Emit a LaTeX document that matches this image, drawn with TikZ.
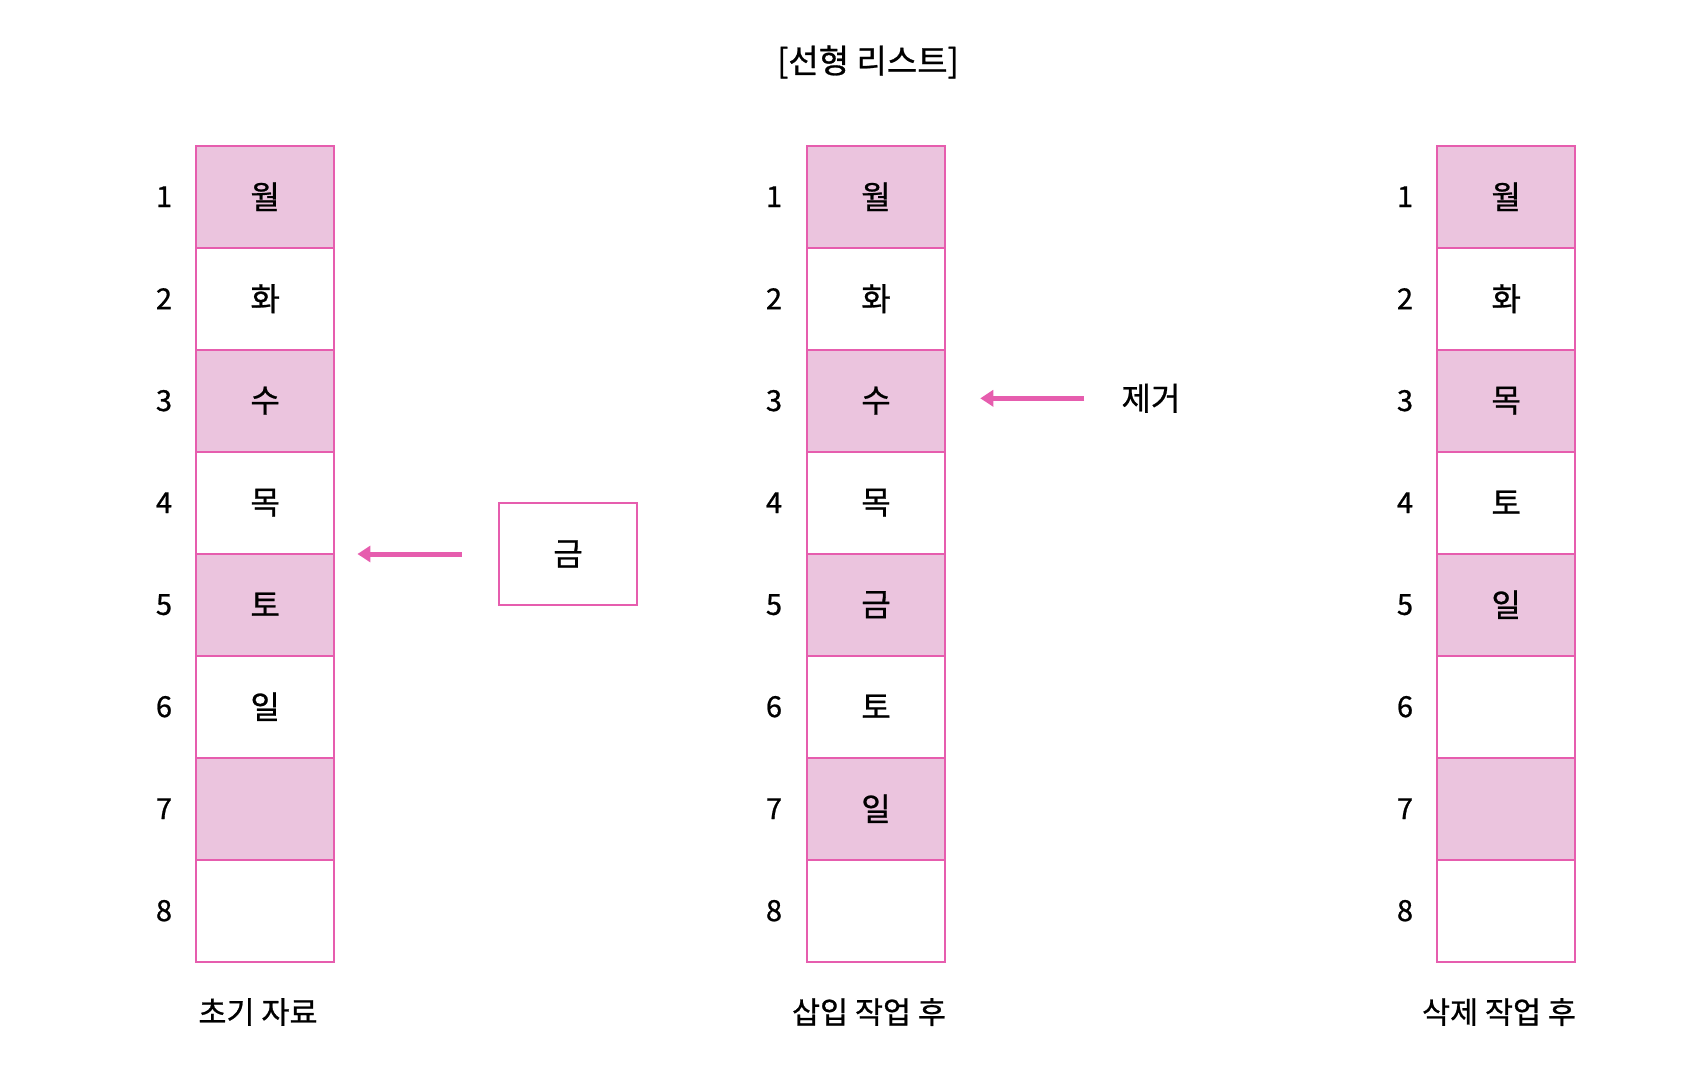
\documentclass[tikz,border=0pt]{standalone}
\usepackage{fontspec}
\setmainfont{Noto Sans CJK KR}[FakeBold=0.8]
\usetikzlibrary{arrows.meta}
\definecolor{pinkline}{HTML}{E65DAE}
\definecolor{pinkfill}{HTML}{EBC4DE}
\tikzset{
  cell/.style={draw=pinkline, line width=2pt, minimum width=138.5pt, minimum height=102pt, inner sep=0pt, font=\fontsize{32}{35}\selectfont},
  hl/.style={fill=pinkfill},
  num/.style={inner sep=0pt, font=\fontsize{29}{32}\selectfont},
  lbl/.style={inner sep=0pt, font=\fontsize{30.5}{33}\selectfont},
  pinkarrow/.style={draw=pinkline, line width=5pt, -{Triangle[length=13pt,width=16pt]}},
}
\begin{document}
\begin{tikzpicture}[x=1pt,y=-1pt]
\useasboundingbox (0,0) rectangle (1706,1068);
% title
\node[lbl, font=\fontsize{33}{36}\selectfont] (title) at (868,62) {[선형 리스트]};
% numbers
\foreach \col/\x/\nx in {1/265.2/164, 2/876/774, 3/1506.2/1405} {
  \foreach \r in {1,...,8} {
    \pgfmathsetmacro{\yy}{196.7+102*(\r-1)}
    \node[num] (n\col\r) at (\nx,\yy) {\r};
  }
}
% column 1
\node[cell,hl] (c11) at (265.2,196.7) {월};
\node[cell]    (c12) at (265.2,298.7) {화};
\node[cell,hl] (c13) at (265.2,400.7) {수};
\node[cell]    (c14) at (265.2,502.7) {목};
\node[cell,hl] (c15) at (265.2,604.7) {토};
\node[cell]    (c16) at (265.2,706.7) {일};
\node[cell,hl] (c17) at (265.2,808.7) {};
\node[cell]    (c18) at (265.2,910.7) {};
% column 2
\node[cell,hl] (c21) at (876,196.7) {월};
\node[cell]    (c22) at (876,298.7) {화};
\node[cell,hl] (c23) at (876,400.7) {수};
\node[cell]    (c24) at (876,502.7) {목};
\node[cell,hl] (c25) at (876,604.7) {금};
\node[cell]    (c26) at (876,706.7) {토};
\node[cell,hl] (c27) at (876,808.7) {일};
\node[cell]    (c28) at (876,910.7) {};
% column 3
\node[cell,hl] (c31) at (1506.2,196.7) {월};
\node[cell]    (c32) at (1506.2,298.7) {화};
\node[cell,hl] (c33) at (1506.2,400.7) {목};
\node[cell]    (c34) at (1506.2,502.7) {토};
\node[cell,hl] (c35) at (1506.2,604.7) {일};
\node[cell]    (c36) at (1506.2,706.7) {};
\node[cell,hl] (c37) at (1506.2,808.7) {};
\node[cell]    (c38) at (1506.2,910.7) {};
% bottom labels
\node[lbl] (l1) at (258,1012) {초기 자료};
\node[lbl] (l2) at (869,1012) {삽입 작업 후};
\node[lbl] (l3) at (1499,1012) {삭제 작업 후};
% insert box
\node[cell] (kum) at (568,554) {금};
\coordinate (ins) at (c15.north east);
\draw[pinkarrow, shorten <=36pt, shorten >=22pt] (kum.west) -- (kum.west -| ins);
% delete
\node[lbl, font=\fontsize{32}{35}\selectfont] (jg) at (1151,398.3) {제거};
\coordinate (del) at (c23.east);
\draw[pinkarrow, shorten <=37pt, shorten >=34pt] (jg.west |- 0,398.3) -- (del |- 0,398.3);
\end{tikzpicture}
\end{document}
